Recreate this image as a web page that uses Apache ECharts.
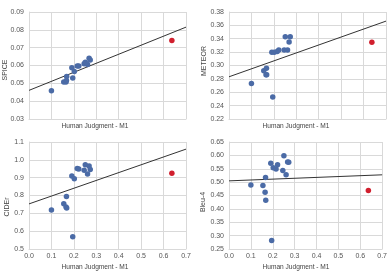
<!DOCTYPE html>
<html>
<head>
<meta charset="utf-8">
<script src="https://cdn.jsdelivr.net/npm/echarts@6/dist/echarts.min.js"></script>
<style>
html,body{margin:0;padding:0;background:#fff;}
#c{width:390px;height:273px;}
</style>
</head>
<body>
<div id="c"></div>
<script>
// Human Judgment - M1 for the 15 blue models, and for the highlighted (red) model
const humanM1 = [0.100, 0.155, 0.165, 0.167, 0.168, 0.191, 0.195, 0.202, 0.215, 0.222, 0.246, 0.251, 0.261, 0.268, 0.273];
const humanM1Red = 0.637;

const spice  = [0.0458, 0.0507, 0.0507, 0.0516, 0.0539, 0.0588, 0.0530, 0.0567, 0.0597, 0.0597, 0.0610, 0.0618, 0.0605, 0.0641, 0.0631];
const spiceRed = 0.0740;
const meteor = [0.273, 0.292, 0.286, 0.296, 0.286, 0.320, 0.253, 0.320, 0.321, 0.323, 0.323, 0.343, 0.323, 0.335, 0.343];
const meteorRed = 0.3347;
const cider  = [0.719, 0.754, 0.736, 0.795, 0.730, 0.910, 0.568, 0.894, 0.951, 0.949, 0.942, 0.972, 0.920, 0.966, 0.946];
const ciderRed = 0.925;
const bleu4  = [0.489, 0.487, 0.462, 0.517, 0.432, 0.571, 0.282, 0.554, 0.549, 0.565, 0.543, 0.599, 0.528, 0.575, 0.574];
const bleu4Red = 0.469;

const xTicks = {min: 0, max: 0.7, interval: 0.1};
const panels = [
  {name: 'SPICE',  ys: spice,  red: spiceRed,  min: 0.03, max: 0.09, interval: 0.01, dec: 2},
  {name: 'METEOR', ys: meteor, red: meteorRed, min: 0.22, max: 0.38, interval: 0.02, dec: 2},
  {name: 'CIDEr',  ys: cider,  red: ciderRed,  min: 0.5,  max: 1.1,  interval: 0.1,  dec: 1},
  {name: 'Bleu-4', ys: bleu4,  red: bleu4Red,  min: 0.25, max: 0.65, interval: 0.05, dec: 2}
];

const FONT = 'Liberation Sans';
const grids = [
  {left: 29, top: 12, width: 157, height: 107},
  {left: 229, top: 12, width: 157, height: 107},
  {left: 29, top: 142, width: 157, height: 107},
  {left: 229, top: 142, width: 157, height: 107}
];
const xTitlePos = [[95, 126], [296, 126], [95, 267], [296, 267]];
const yTitlePos = [[5, 70], [204, 61], [7, 207], [203, 202]];

function regress(xs, ys) {
  const n = xs.length;
  const mx = xs.reduce((a, b) => a + b, 0) / n;
  const my = ys.reduce((a, b) => a + b, 0) / n;
  let sxy = 0, sxx = 0;
  for (let i = 0; i < n; i++) { sxy += (xs[i] - mx) * (ys[i] - my); sxx += (xs[i] - mx) ** 2; }
  const b = sxy / sxx;
  return [b, my - b * mx];
}

const gridLine = '#d9d9d9';
const xAxis = [], yAxis = [], series = [], graphic = [];
panels.forEach((p, i) => {
  xAxis.push({
    type: 'value', gridIndex: i, min: xTicks.min, max: xTicks.max, interval: xTicks.interval,
    axisLine: {show: true, lineStyle: {color: gridLine}}, axisTick: {show: false},
    splitLine: {show: true, lineStyle: {color: gridLine, width: 1}},
    axisLabel: {show: i >= 2, color: '#555', fontFamily: FONT, fontSize: 7, margin: 4,
      formatter: v => v.toFixed(1)}
  });
  yAxis.push({
    type: 'value', gridIndex: i, min: p.min, max: p.max, interval: p.interval,
    axisLine: {show: true, lineStyle: {color: gridLine}}, axisTick: {show: false},
    splitLine: {show: true, lineStyle: {color: gridLine, width: 1}},
    axisLabel: {color: '#555', fontFamily: FONT, fontSize: 7, margin: 5,
      formatter: v => v.toFixed(p.dec)}
  });
  const allX = humanM1.concat([humanM1Red]);
  const allY = p.ys.concat([p.red]);
  const [b, a] = regress(allX, allY);
  series.push({
    type: 'line', xAxisIndex: i, yAxisIndex: i, symbol: 'none', silent: true,
    lineStyle: {color: '#333', width: 1},
    data: [[xTicks.min, a + b * xTicks.min], [xTicks.max, a + b * xTicks.max]], z: 2
  });
  series.push({
    type: 'scatter', xAxisIndex: i, yAxisIndex: i, symbolSize: 5.5,
    itemStyle: {color: '#4b6ba6', opacity: 1},
    data: humanM1.map((x, k) => [x, p.ys[k]]), z: 3
  });
  series.push({
    type: 'scatter', xAxisIndex: i, yAxisIndex: i, symbolSize: 5.5,
    itemStyle: {color: '#d11f2e', opacity: 1},
    data: [[humanM1Red, p.red]], z: 3
  });
  graphic.push({
    type: 'text', x: xTitlePos[i][0], y: xTitlePos[i][1],
    style: {text: 'Human Judgment - M1', fill: '#444', font: '6.6px "' + FONT + '"',
      align: 'center', verticalAlign: 'middle', textAlign: 'center', textVerticalAlign: 'middle'}
  });
  graphic.push({
    type: 'text', x: yTitlePos[i][0], y: yTitlePos[i][1], rotation: Math.PI / 2,
    style: {text: p.name, fill: '#444', font: '7px "' + FONT + '"',
      align: 'center', verticalAlign: 'middle', textAlign: 'center', textVerticalAlign: 'middle'}
  });
});

const chart = echarts.init(document.getElementById('c'), null, {renderer: 'canvas'});
chart.setOption({
  animation: false,
  backgroundColor: '#fff',
  grid: grids,
  xAxis: xAxis,
  yAxis: yAxis,
  series: series,
  graphic: graphic
});
</script>
</body>
</html>
